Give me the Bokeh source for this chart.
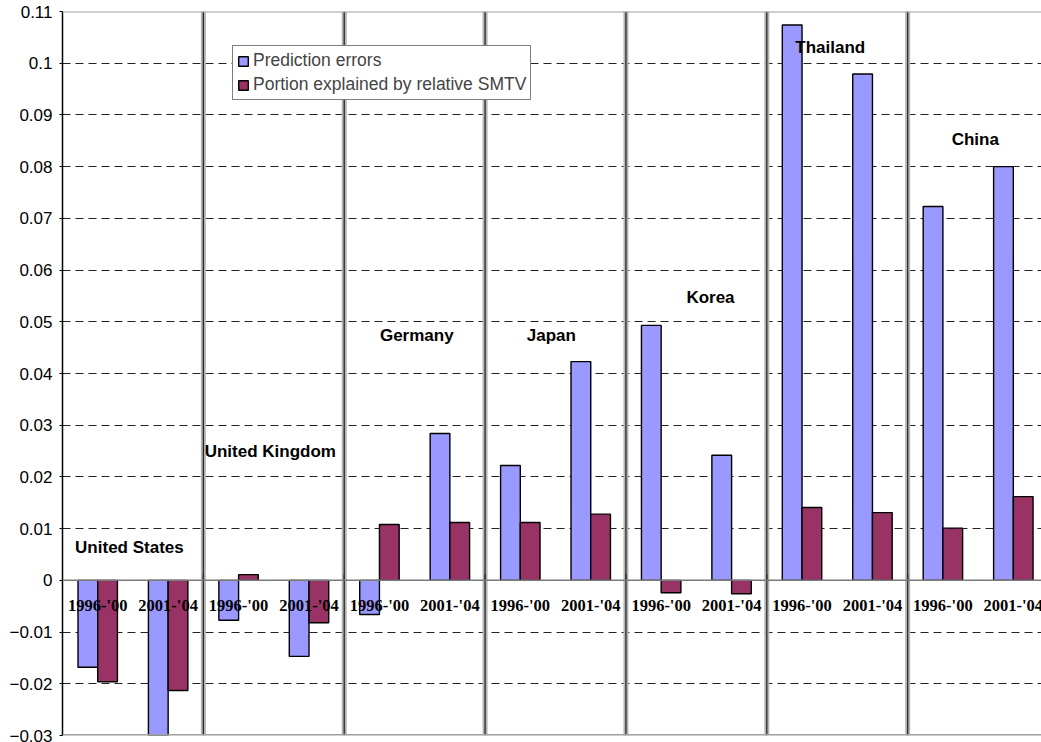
from bokeh.plotting import figure
from bokeh.models import (Range1d, Span, Legend, LegendItem, ColumnDataSource,
                          CustomJSTickFormatter, FixedTicker)
from bokeh.core.properties import value
from bokeh.embed import file_html
from bokeh.resources import INLINE

# ---- data -------------------------------------------------------------
countries = ["United States", "United Kingdom", "Germany", "Japan",
             "Korea", "Thailand", "China"]
periods = ["1996-'00", "2001-'04"]

# one value per (country, period), in country order
prediction_errors = [-0.0168, -0.0301, -0.0077, -0.0147, -0.0066, 0.0284,
                     0.0222, 0.0423, 0.0493, 0.0242, 0.1074, 0.0979,
                     0.0723, 0.0800]
portion_smtv = [-0.0196, -0.0213, 0.0011, -0.0082, 0.0108, 0.0112,
                0.0112, 0.0128, -0.0024, -0.0026, 0.0141, 0.0131,
                0.0101, 0.0162]

y_ticks = [-0.03, -0.02, -0.01, 0, 0.01, 0.02, 0.03, 0.04, 0.05, 0.06,
           0.07, 0.08, 0.09, 0.1, 0.11]

# where each country name sits (x in slot units, y in data units)
country_label_x = [0.95, 2.95, 5.03, 6.94, 9.2, 10.9, 12.96]
country_label_y = [0.0064, 0.0249, 0.0474, 0.0474, 0.0547, 0.103, 0.0853]

BLUE = "#9999FF"
PLUM = "#993366"

n = len(prediction_errors)
slot = [i + 0.5 for i in range(n)]
period_labels = [periods[i % 2] for i in range(n)]

src = ColumnDataSource(dict(
    x_pe=[s - 0.14 for s in slot],
    x_ps=[s + 0.14 for s in slot],
    pe=prediction_errors,
    ps=portion_smtv,
))

p = figure(width=1041, height=742, output_backend="svg", toolbar_location=None,
           x_range=Range1d(0, 13.9), y_range=Range1d(-0.03, 0.11),
           min_border_left=62, min_border_right=0, min_border_top=11,
           min_border_bottom=7, x_axis_location=None)
p.outline_line_color = None
p.background_fill_color = "white"
p.border_fill_color = "white"

# y axis
p.yaxis.ticker = FixedTicker(ticks=y_ticks)
p.yaxis.formatter = CustomJSTickFormatter(
    code="const v = Math.round(tick*100)/100; return v.toString().replace('-', '\u2212');")
p.yaxis.major_label_text_font = "Liberation Sans"
p.yaxis.major_label_text_font_size = "17px"
p.yaxis.major_label_text_color = "black"
p.yaxis.axis_line_color = "black"
p.yaxis.axis_line_width = 1.5
p.yaxis.major_tick_out = 3
p.yaxis.major_tick_in = 0
p.yaxis.minor_tick_line_color = None
p.yaxis.major_label_standoff = 7

# dashed horizontal gridlines
p.xgrid.grid_line_color = None
p.ygrid.grid_line_color = "#222222"
p.ygrid.grid_line_dash = "8 5"
p.ygrid.grid_line_width = 1

# frame top / bottom borders
p.add_layout(Span(location=0.11, dimension="width", line_color="#a0a0a0", line_width=2))
p.add_layout(Span(location=-0.03, dimension="width", line_color="#a0a0a0", line_width=3))

# country separators: grey band with a dark core
for k in range(1, len(countries)):
    xs = 2 * k
    p.segment(x0=xs, y0=-0.03, x1=xs, y1=0.11, line_color="#b4b4b4", line_width=5)
    p.segment(x0=xs, y0=-0.03, x1=xs, y1=0.11, line_color="#222222", line_width=1.2)

# bars
r_pe = p.vbar(x="x_pe", top="pe", bottom=0, width=0.28, source=src,
              fill_color=BLUE, line_color="black", line_width=1.4)
r_ps = p.vbar(x="x_ps", top="ps", bottom=0, width=0.28, source=src,
              fill_color=PLUM, line_color="black", line_width=1.4)

# category axis line at zero, with ticks at the separators
p.add_layout(Span(location=0, dimension="width", line_color="#7a7a7a", line_width=1.5))
for k in range(1, len(countries)):
    p.segment(x0=2 * k, y0=0, x1=2 * k, y1=0.0012, line_color="#333333", line_width=1.5)

# period labels under the zero line
p.text(x=slot, y=[-0.0048] * n, text=period_labels,
       text_font=value("Liberation Serif"), text_font_style="bold",
       text_font_size="16.5px", text_align="center", text_baseline="middle",
       text_color="black")

# country names
p.text(x=country_label_x, y=country_label_y, text=countries,
       text_font=value("Liberation Sans"), text_font_style="bold",
       text_font_size="17px", text_align="center", text_baseline="middle",
       text_color="black")

legend = Legend(items=[LegendItem(label="Prediction errors", renderers=[r_pe]),
                       LegendItem(label="Portion explained by relative SMTV", renderers=[r_ps])],
                location=(170, 635))
legend.label_text_font = "Liberation Sans"
legend.label_text_font_size = "17.5px"
legend.label_height = 20
legend.label_standoff = 4
legend.glyph_width = 12
legend.glyph_height = 12
legend.spacing = 3
legend.padding = 4
legend.margin = 0
legend.border_line_color = "black"
legend.border_line_width = 1
legend.background_fill_color = "white"
legend.background_fill_alpha = 1
p.add_layout(legend)

open("out.html", "w").write(file_html(p, INLINE))
